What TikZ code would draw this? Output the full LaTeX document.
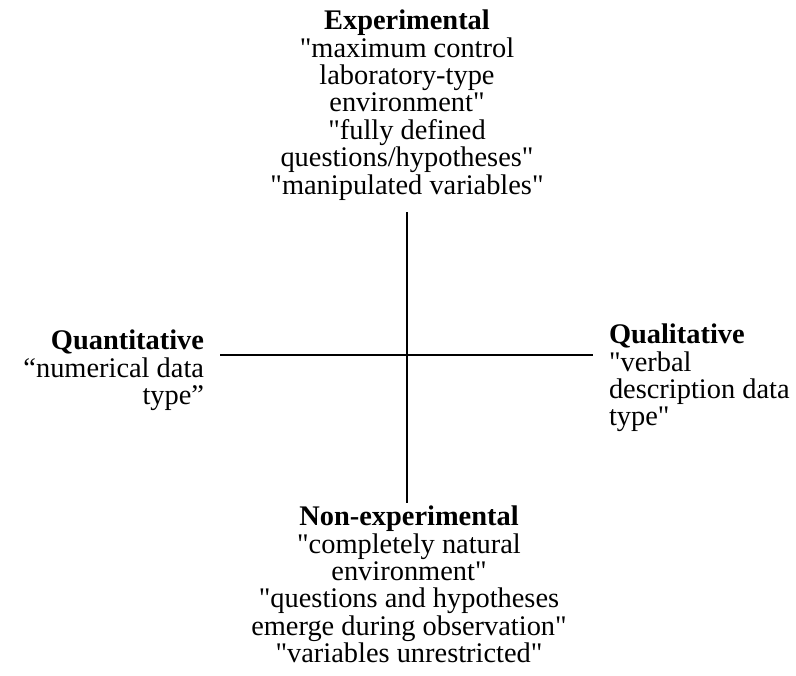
\documentclass[tikz,border=0pt]{standalone}
\usepackage{fontspec}
\newfontfamily\scanfont{Liberation Serif}
\usetikzlibrary{positioning}

\begin{document}
\begin{tikzpicture}[
  x=0.5pt,y=-0.5pt,
  font=\scanfont\fontsize{14.2}{13.7}\selectfont,
  pole/.style={inner sep=0pt,outer sep=0pt},
  axis/.style={line width=1pt,black},
  every node/.style={align=center}]

  \useasboundingbox (0,0) rectangle (796,675);

  % Labels at the four ends of the cross
  \node[pole,anchor=north] (expt) at (407,10)
    {\textbf{Experimental}\\ "maximum control\\ laboratory-type\\ environment"\\
     "fully defined\\ questions/hypotheses"\\ "manipulated variables"};
  \node[pole,anchor=north] (nonexpt) at (409,506)
    {\textbf{Non-experimental}\\ "completely natural\\ environment"\\
     "questions and hypotheses\\ emerge during observation"\\ "variables unrestricted"};
  \node[pole,anchor=north east,align=right] (quant) at (204,330)
    {\textbf{Quantitative}\\ “numerical data\\ type”};
  \node[pole,anchor=north west,align=left] (qual) at (609,324)
    {\textbf{Qualitative}\\ "verbal\\ description data\\ type"};

  % Ends of the two axes
  \coordinate (top) at (407,212);
  \coordinate (bottom) at (407,503);
  \coordinate (left) at (220,355);
  \coordinate (right) at (593,355);

  \draw[axis] (top) -- (bottom);
  \draw[axis] (left) -- (right);

\end{tikzpicture}
\end{document}
